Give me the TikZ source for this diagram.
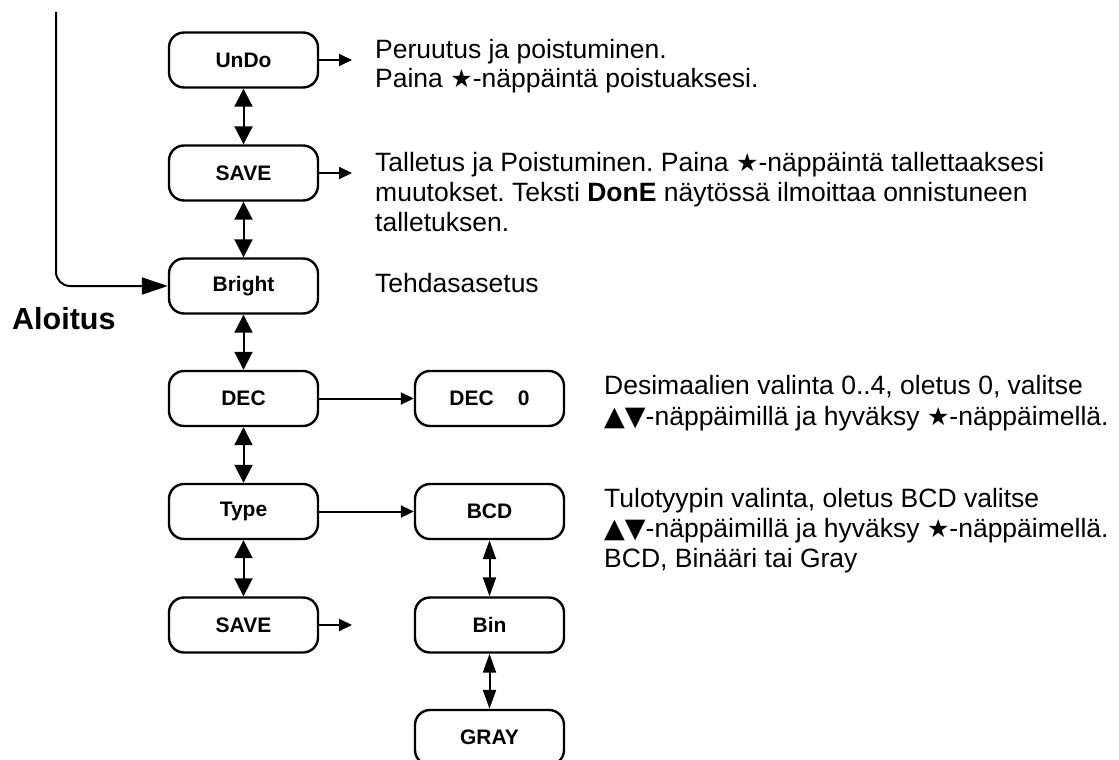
\documentclass[tikz,border=0pt]{standalone}
\usepackage{fontspec}
\setmainfont{Liberation Sans}
\newfontfamily\symfont{DejaVu Sans}
\usetikzlibrary{arrows.meta}
\frenchspacing
\newcommand\starg{{\symfont\fontsize{25}{25}\selectfont ★}}
\newcommand\updn{{\symfont\fontsize{27}{27}\selectfont ▲▼}}
\begin{document}
\begin{tikzpicture}[x=1pt,y=-1pt,
  box/.style={draw, line width=2.4pt, rounded corners=15pt, minimum width=149pt,
    minimum height=55pt, inner sep=0pt, font=\fontsize{21}{24}\selectfont\bfseries},
  txt/.style={anchor=base west, inner sep=0pt, font=\fontsize{26.5}{30}\selectfont},
  conn/.style={line width=2pt},
  dbl/.style={{Triangle[length=18pt,width=18pt]}-{Triangle[length=18pt,width=18pt]}},
  dblnarrow/.style={{Triangle[length=19pt,width=13pt]}-{Triangle[length=19pt,width=13pt]}},
  smallarrow/.style={-{Triangle[length=13pt,width=12pt]}},
  entry/.style={-{Triangle[length=26pt,width=17pt]}}
]
\useasboundingbox (0,0) rectangle (1119,760);
\clip (0,0) rectangle (1119,760);

% left column
\node[box] (undo)   at (243.5,60)    {UnDo};
\node[box] (save1)  at (243.5,173)   {SAVE};
\node[box] (bright) at (243.5,286)   {Bright};
\node[box] (dec)    at (243.5,398.5) {DEC};
\node[box] (type)   at (243.5,511.5) {Type};
\node[box] (save2)  at (243.5,625)   {SAVE};
% right column
\node[box] (dec0) at (489.5,398.5) {DEC\hspace{24pt}0};
\node[box] (bcd)  at (489.5,511.5) {BCD};
\node[box] (bin)  at (489.5,625)   {Bin};
\node[box] (gray) at (489.5,737.5) {GRAY};

% vertical links
\draw[conn,dbl] (undo) -- (save1);
\draw[conn,dbl] (save1) -- (bright);
\draw[conn,dbl] (bright) -- (dec);
\draw[conn,dbl] (dec) -- (type);
\draw[conn,dbl] (type) -- (save2);
\draw[conn,dblnarrow] (bcd) -- (bin);
\draw[conn,dblnarrow] (bin) -- (gray);

% horizontal links
\draw[conn,smallarrow] (dec) -- (dec0);
\draw[conn,smallarrow] (type) -- (bcd);
\coordinate (u1) at (352,60);
\coordinate (s1) at (352,173);
\coordinate (s2) at (352,625);
\draw[conn,smallarrow] (undo.east) -- (u1);
\draw[conn,smallarrow] (save1.east) -- (s1);
\draw[conn,smallarrow] (save2.east) -- (s2);

% entry line
\coordinate (start) at (56,12);
\draw[conn,entry,rounded corners=14pt] (start) |- (bright.west);
\node[anchor=base west, inner sep=0pt, font=\fontsize{30.5}{34}\selectfont\bfseries] (aloitus) at (12,329) {Aloitus};

% descriptions
\node[txt] (t1a) at (375,59) {Peruutus ja poistuminen.};
\node[txt] (t1b) at (375,88) {Paina \starg-näppäintä poistuaksesi.};
\node[txt] (t2a) at (375,171) {Talletus ja Poistuminen. Paina \starg-näppäintä tallettaaksesi};
\node[txt] (t2b) at (375,201) {muutokset. Teksti \textbf{DonE} näytössä ilmoittaa onnistuneen};
\node[txt] (t2c) at (375,231) {talletuksen.};
\node[txt] (t3)  at (375,292) {Tehdasasetus};
\node[txt] (t4a) at (604,394) {Desimaalien valinta 0..4, oletus 0, valitse};
\node[txt] (t4b) at (604,425) {\updn-näppäimillä ja hyväksy \starg-näppäimellä.};
\node[txt] (t5a) at (604,507) {Tulotyypin valinta, oletus BCD valitse};
\node[txt] (t5b) at (604,537) {\updn-näppäimillä ja hyväksy \starg-näppäimellä.};
\node[txt] (t5c) at (604,567) {BCD, Binääri tai Gray};
\end{tikzpicture}
\end{document}
